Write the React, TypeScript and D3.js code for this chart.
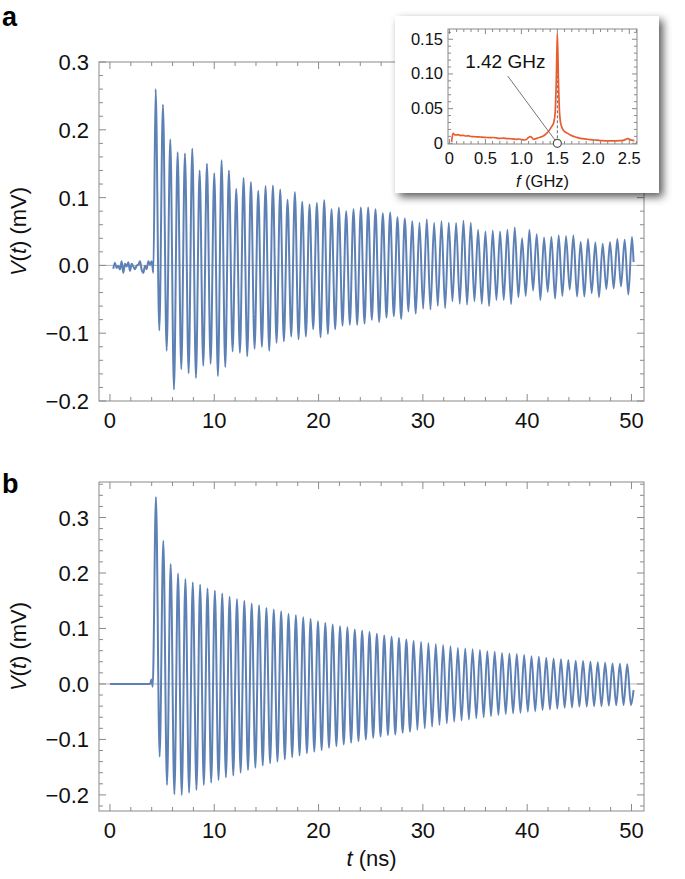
import React from "react";
import * as d3 from "d3";

const FONT = "'Liberation Sans', Arial, Helvetica, sans-serif";
const BLUE = "#5E81B5";
const ORANGE = "#EC5B2E";
const FRAME = "#8a8a8a";

const aNoiseStartT = 0.32;
const aNoiseStepT = 0.16;
const aNoise = [
  -0.005, 0.004, -0.004, -0.0005, -0.006, 0.006, -0.011, 0.0025, -0.0015, 0.0045, -0.008, 0.0025,
  -0.0015, -0.0055, -0.0005, 0.001, 0.006, -0.0065, -0.011, -0.0005, -0.0055, 0.006, 0.001, 0.006, -0.011,
];
const aFirstPeakT = 4.38;
const aPeriod = 0.7026;
const aPeaks = [
  0.26, 0.237, 0.186, 0.167, 0.165, 0.172, 0.14, 0.15, 0.136, 0.155, 0.14, 0.113, 0.129, 0.123, 0.11, 0.117,
  0.118, 0.112, 0.097, 0.108, 0.094, 0.09, 0.092, 0.096, 0.083, 0.085,
  0.08, 0.083, 0.0855, 0.0855, 0.083, 0.077, 0.078, 0.071, 0.069, 0.065, 0.063, 0.068, 0.0625, 0.065, 0.063,
  0.0625, 0.066, 0.063, 0.0527, 0.05,
  0.0516, 0.05, 0.0527, 0.056, 0.04, 0.0527, 0.046, 0.041, 0.042, 0.044, 0.043, 0.044, 0.035, 0.039, 0.034,
  0.032, 0.0345, 0.039, 0.038, 0.042,
];
const aTroughs = [
  -0.096, -0.126, -0.183, -0.153, -0.159, -0.166, -0.148, -0.145, -0.163, -0.15, -0.127, -0.129, -0.134,
  -0.123, -0.12, -0.126, -0.114, -0.112, -0.105, -0.109, -0.105, -0.094, -0.106, -0.101, -0.094,
  -0.089, -0.0875, -0.0875, -0.086, -0.08, -0.0835, -0.077, -0.075, -0.079, -0.068, -0.071, -0.064, -0.065,
  -0.06, -0.063, -0.053, -0.0565, -0.058, -0.053, -0.0565, -0.06,
  -0.051, -0.051, -0.057, -0.047, -0.045, -0.037, -0.051, -0.039, -0.049, -0.045, -0.036, -0.046, -0.046,
  -0.041, -0.047, -0.035, -0.034, -0.031, -0.043,
];
const aEnd: [number, number] = [50.2, 0.005];

// ---------------- Panel b: simulated ring-down ----------------
const bLead: [number, number][] = [
  [0, 0],
  [3.85, 0],
  [3.98, 0.008],
  [4.1, -0.005],
];
const bFirstPeakT = 4.41;
const bPeriod = 0.706;
const bPeaks = [
  0.337, 0.258, 0.216, 0.199, 0.189, 0.183, 0.179, 0.172, 0.168, 0.163, 0.157, 0.153, 0.15, 0.145, 0.142,
  0.137, 0.134, 0.131, 0.126, 0.124, 0.12, 0.117, 0.113, 0.11, 0.107, 0.104, 0.102, 0.098, 0.096, 0.0935,
  0.0905, 0.0875,
  0.085, 0.083, 0.08, 0.078, 0.076, 0.074, 0.072, 0.07, 0.068, 0.065, 0.064, 0.0625, 0.061, 0.059, 0.058,
  0.056, 0.055, 0.054, 0.052, 0.05, 0.049, 0.047, 0.046, 0.0445, 0.043, 0.042, 0.0415, 0.04, 0.039, 0.038,
  0.037, 0.0365, 0.0355,
];
const bTroughs = [
  -0.131, -0.182, -0.199, -0.2, -0.196, -0.191, -0.182, -0.178, -0.173, -0.168, -0.165, -0.16, -0.155,
  -0.151, -0.147, -0.143, -0.14, -0.136, -0.132, -0.129, -0.125, -0.122, -0.119, -0.115, -0.112, -0.109,
  -0.106, -0.103, -0.1, -0.097, -0.095, -0.092,
  -0.091, -0.088, -0.086, -0.083, -0.08, -0.077, -0.074, -0.071, -0.068, -0.066, -0.064, -0.062, -0.06,
  -0.058, -0.056, -0.054, -0.053, -0.052, -0.05, -0.049, -0.047, -0.046, -0.0445, -0.043, -0.0425, -0.041,
  -0.041, -0.04, -0.04, -0.039, -0.0385, -0.038, -0.038,
];
const bEnd: [number, number] = [50.2, -0.011];

// ---------------- Inset spectrum ----------------
const specF = [
  0.03, 0.05, 0.07, 0.09, 0.12, 0.15, 0.19, 0.23, 0.27, 0.3, 0.34, 0.37, 0.41, 0.45, 0.5, 0.56, 0.6, 0.65,
  0.7, 0.75, 0.8, 0.85, 0.9, 0.93, 0.97, 1.0, 1.05, 1.08, 1.1, 1.13, 1.17, 1.22, 1.26, 1.31, 1.35, 1.39,
  1.42, 1.45, 1.47, 1.485, 1.5, 1.515, 1.53, 1.55, 1.59, 1.63, 1.68, 1.75, 1.82, 1.9, 1.96, 2.01, 2.1,
  2.2, 2.3, 2.38, 2.43, 2.46, 2.48, 2.53, 2.57,
];
const specA = [
  0.002, 0.0144, 0.0125, 0.012, 0.0125, 0.0112, 0.0115, 0.0105, 0.0108, 0.0098, 0.0096, 0.0092, 0.0094,
  0.0088, 0.0085, 0.0082, 0.0084, 0.0078, 0.0072, 0.0074, 0.0068, 0.0066, 0.006, 0.0058, 0.0062, 0.0055,
  0.0048, 0.0065, 0.0085, 0.0096, 0.0058, 0.0075, 0.0087, 0.011, 0.0144, 0.019, 0.024, 0.03, 0.045, 0.09,
  0.158, 0.09, 0.045, 0.027, 0.018, 0.015, 0.012, 0.009, 0.0072, 0.006, 0.0052, 0.0048, 0.004, 0.0034,
  0.0035, 0.0038, 0.0046, 0.0062, 0.0068, 0.0045, 0.0038,
];
const peakF = 1.5;
const peakA = 0.158;
const peakLabel = "1.42 GHz";
const labelAnchor: [number, number] = [0.776, 0.118];
const leaderStart: [number, number] = [0.81, 0.097];

// ---------------- Ticks ----------------
const tMajor = [0, 10, 20, 30, 40, 50];
const tMinor = d3.range(0, 52, 2);
const vMajorLabels = [0.3, 0.2, 0.1, 0.0, -0.1, -0.2];
const fMajor = [0, 0.5, 1.0, 1.5, 2.0, 2.5];
const fMajorLabels = ["0", "0.5", "1.0", "1.5", "2.0", "2.5"];
const aMajor = [0, 0.05, 0.1, 0.15];
const aMajorLabels = ["0", "0.05", "0.10", "0.15"];

type Pt = [number, number];

function ringdown(lead: Pt[], t0: number, period: number, peaks: number[], troughs: number[], end: Pt): Pt[] {
  const pts: Pt[] = lead.slice();
  peaks.forEach((p, i) => {
    pts.push([t0 + i * period, p]);
    if (i < troughs.length) pts.push([t0 + (i + 0.5) * period, troughs[i]]);
  });
  pts.push(end);
  return pts;
}

const near = (a: number, b: number) => Math.abs(a - b) < 1e-6;

function FrameTicks({
  xs,
  ys,
  xMinor,
  xMajor,
  yMinor,
  yMajor,
  maj,
  min,
}: {
  xs: d3.ScaleLinear<number, number>;
  ys: d3.ScaleLinear<number, number>;
  xMinor: number[];
  xMajor: number[];
  yMinor: number[];
  yMajor: number[];
  maj: number;
  min: number;
}) {
  const [xl, xr] = xs.range();
  const [yb, yt] = ys.range();
  const out: React.ReactNode[] = [];
  xMinor.forEach((v, i) => {
    const X = xs(v);
    const L = xMajor.some((m) => near(m, v)) ? maj : min;
    out.push(<line key={"xb" + i} x1={X} x2={X} y1={yb} y2={yb - L} />);
    out.push(<line key={"xt" + i} x1={X} x2={X} y1={yt} y2={yt + L} />);
  });
  yMinor.forEach((v, i) => {
    const Y = ys(v);
    if (Y < yt - 0.5 || Y > yb + 0.5) return;
    const L = yMajor.some((m) => near(m, v)) ? maj : min;
    out.push(<line key={"yl" + i} x1={xl} x2={xl + L} y1={Y} y2={Y} />);
    out.push(<line key={"yr" + i} x1={xr} x2={xr - L} y1={Y} y2={Y} />);
  });
  return (
    <g stroke={FRAME} strokeWidth={1} fill="none">
      {out}
      <rect x={xl} y={yt} width={xr - xl} height={yb - yt} />
    </g>
  );
}

function fmtV(v: number) {
  const s = Math.abs(v).toFixed(1);
  return v < -1e-9 ? "\u2212" + s : s;
}

function Panel({
  data,
  yDomain,
  top,
  bottom,
  letter,
  letterY,
}: {
  data: Pt[];
  yDomain: [number, number];
  top: number;
  bottom: number;
  letter: string;
  letterY: number;
}) {
  const xs = d3.scaleLinear().domain([-1.05, 51.2]).range([99, 644]);
  const ys = d3.scaleLinear().domain(yDomain).range([bottom, top]);
  const line = d3
    .line<Pt>()
    .x((d) => xs(d[0]))
    .y((d) => ys(d[1]))
    .curve(d3.curveMonotoneX);
  const yMinor = d3.range(-12, 19).map((k) => k * 0.02);
  const yMajor = d3.range(-2, 4).map((k) => k * 0.1);
  const midY = (top + bottom) / 2;
  return (
    <g>
      <line x1={xs.range()[0]} x2={xs.range()[1]} y1={ys(0)} y2={ys(0)} stroke="#b5b5b5" strokeWidth={1} />
      <path d={line(data) || ""} fill="none" stroke={BLUE} strokeWidth={2} strokeLinejoin="round" />
      <FrameTicks xs={xs} ys={ys} xMinor={tMinor} xMajor={tMajor} yMinor={yMinor} yMajor={yMajor} maj={7} min={4} />
      <g fontFamily={FONT} fontSize={22} fill="#111">
        {tMajor.map((t) => (
          <text key={"tx" + t} x={xs(t)} y={bottom + 27} textAnchor="middle">
            {t}
          </text>
        ))}
        {vMajorLabels.map((v) => (
          <text key={"vy" + v} x={89} y={ys(v) + 8} textAnchor="end">
            {fmtV(v)}
          </text>
        ))}
        <text transform={`translate(26,${midY}) rotate(-90)`} textAnchor="middle">
          <tspan fontStyle="italic">V</tspan>(<tspan fontStyle="italic">t</tspan>) (mV)
        </text>
      </g>
      <text x={2} y={letterY} fontFamily={FONT} fontWeight="bold" fontSize={27} fill="#000">
        {letter}
      </text>
    </g>
  );
}

function Inset() {
  const fx = d3.scaleLinear().domain([-0.02, 2.607]).range([448, 637]);
  const fy = d3.scaleLinear().domain([-0.001, 0.1648]).range([144, 29]);
  const pts: Pt[] = specF.map((f, i) => [f, specA[i]]);
  const line = d3
    .line<Pt>()
    .x((d) => fx(d[0]))
    .y((d) => fy(d[1]))
    .curve(d3.curveMonotoneX);
  const xMinor = d3.range(0, 27).map((k) => k * 0.1);
  const yMinor = d3.range(0, 17).map((k) => k * 0.01);
  return (
    <g>
      <rect x={395} y={16} width={264} height={177} fill="#fff" filter="url(#insetShadow)" />
      <line x1={fx(peakF)} x2={fx(peakF)} y1={fy(0)} y2={fy(peakA)} stroke="#555" strokeWidth={0.9} strokeDasharray="3,2" />
      <path d={line(pts) || ""} fill="none" stroke={ORANGE} strokeWidth={1.7} strokeLinejoin="round" />
      <FrameTicks xs={fx} ys={fy} xMinor={xMinor} xMajor={fMajor} yMinor={yMinor} yMajor={aMajor} maj={5} min={3} />
      <line
        x1={fx(leaderStart[0])}
        y1={fy(leaderStart[1])}
        x2={fx(peakF)}
        y2={fy(0)}
        stroke="#666"
        strokeWidth={0.9}
      />
      <circle cx={fx(peakF)} cy={fy(0)} r={4} fill="#fff" stroke="#555" strokeWidth={1.2} />
      <g fontFamily={FONT} fontSize={16.5} fill="#111">
        {fMajor.map((f, i) => (
          <text key={"fx" + i} x={fx(f)} y={163.5} textAnchor="middle">
            {fMajorLabels[i]}
          </text>
        ))}
        {aMajor.map((a, i) => (
          <text key={"ay" + i} x={443} y={fy(a) + 5.5} textAnchor="end">
            {aMajorLabels[i]}
          </text>
        ))}
        <text x={542.5} y={187} textAnchor="middle">
          <tspan fontStyle="italic">f</tspan> (GHz)
        </text>
      </g>
      <text
        x={fx(labelAnchor[0])}
        y={fy(labelAnchor[1]) + 7}
        textAnchor="middle"
        fontFamily={FONT}
        fontSize={19}
        fill="#111"
      >
        {peakLabel}
      </text>
    </g>
  );
}

export default function App() {
  const dataA: Pt[] = ringdown(
    aNoise.map((v, i) => [aNoiseStartT + i * aNoiseStepT, v] as Pt),
    aFirstPeakT,
    aPeriod,
    aPeaks,
    aTroughs,
    aEnd
  );
  const dataB: Pt[] = ringdown(bLead, bFirstPeakT, bPeriod, bPeaks, bTroughs, bEnd);
  return (
    <svg
      width={685}
      height={879}
      viewBox="0 0 685 879"
      style={{ position: "absolute", left: 0, top: 0, background: "#fff" }}
    >
      <defs>
        <filter id="insetShadow" x="-10%" y="-10%" width="130%" height="135%">
          <feDropShadow dx={4} dy={4} stdDeviation={4.5} floodColor="#000" floodOpacity={0.65} />
        </filter>
      </defs>
      <rect x={0} y={0} width={685} height={879} fill="#fff" />
      <Panel data={dataA} yDomain={[-0.2, 0.3]} top={62} bottom={401} letter="a" letterY={26} />
      <Panel data={dataB} yDomain={[-0.229, 0.364]} top={482} bottom={811} letter="b" letterY={493} />
      <text x={371.5} y={866} textAnchor="middle" fontFamily={FONT} fontSize={22} fill="#111">
        <tspan fontStyle="italic">t</tspan> (ns)
      </text>
      <Inset />
    </svg>
  );
}
